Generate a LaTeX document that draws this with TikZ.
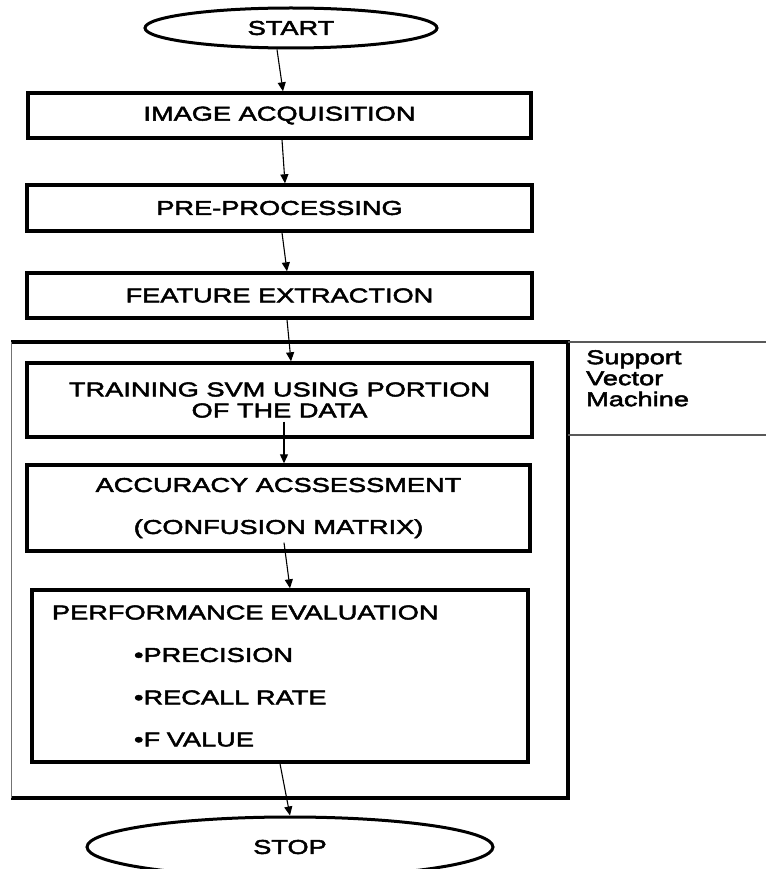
\documentclass[tikz,border=0pt]{standalone}
\usepackage{fontspec}
\setmainfont{Liberation Sans}[FakeStretch=1.36, FakeBold=2.5]
\usetikzlibrary{shapes.geometric,arrows.meta}

\tikzset{
  stepbox/.style={draw, rectangle, line width=3.4pt, inner sep=0pt, align=center},
  terminal/.style={draw, ellipse, line width=3pt, inner sep=0pt},
  flow/.style={-{Triangle[length=9pt,width=8pt]}, line width=1.1pt},
}

\begin{document}
\begin{tikzpicture}[x=1pt, y=-1pt, font=\fontsize{20}{21}\selectfont]
	\useasboundingbox (0,0) rectangle (766,869);
	% start and stop
	\node[terminal, minimum width=292pt, minimum height=40pt] (start) at (291,28) {START};
	\node[terminal, minimum width=406pt, minimum height=60pt] (stop) at (290,847) {STOP};
	% steps before the classifier
	\node[stepbox, minimum width=503pt, minimum height=45pt] (acq) at (279.5,115.5) {IMAGE ACQUISITION};
	\node[stepbox, minimum width=505pt, minimum height=46pt] (pre) at (279.5,208) {PRE-PROCESSING};
	\node[stepbox, minimum width=505pt, minimum height=45pt] (feat) at (279.5,295.5) {FEATURE EXTRACTION};
	% frame of the support vector machine part
	\draw[line width=3.2pt] (11,342) -- (568,342) -- (568,798) -- (11,798);
	\draw[line width=0.9pt, black!55] (11,342) -- (11,798);
	\draw[line width=1.4pt, black!65] (568,342) -- (766,342);
	\draw[line width=1.4pt, black!65] (568,435) -- (766,435);
	\node[anchor=north west, align=left, inner sep=0pt] (svmlabel) at (586,350)
		{Support\\Vector\\Machine};
	% steps inside the frame
	\node[stepbox, minimum width=505pt, minimum height=74pt] (train) at (279.5,400)
		{TRAINING SVM USING PORTION\\OF THE DATA};
	\node[stepbox, minimum width=503pt, minimum height=86pt] (acc) at (278.5,508)
		{ACCURACY ACSSESSMENT\\[21pt](CONFUSION MATRIX)};
	\node[stepbox, minimum width=496pt, minimum height=172pt, text width=456pt, align=left] (perf) at (280,676)
		{PERFORMANCE EVALUATION\\[21.5pt]
		\hspace*{82pt}•PRECISION\\[21.5pt]
		\hspace*{82pt}•RECALL RATE\\[21pt]
		\hspace*{82pt}•F VALUE};
	% connectors
	\draw[flow] ([xshift=-14pt]start.south) -- ([xshift=3.5pt]acq.north);
	\draw[flow] ([xshift=2.5pt]acq.south) -- ([xshift=5.5pt]pre.north);
	\draw[flow] ([xshift=2.5pt]pre.south) -- ([xshift=7.5pt]feat.north);
	\draw[flow] ([xshift=7.5pt]feat.south) -- ([xshift=11.5pt]train.north);
	\draw[flow] ([shift={(4.5pt,17pt)}]train.south) -- ([xshift=5.5pt]acc.north);
	\draw[flow] ([shift={(5.5pt,10pt)}]acc.south) -- ([xshift=10pt]perf.north);
	\draw[flow] (perf.south) -- (stop.north);
\end{tikzpicture}
\end{document}
